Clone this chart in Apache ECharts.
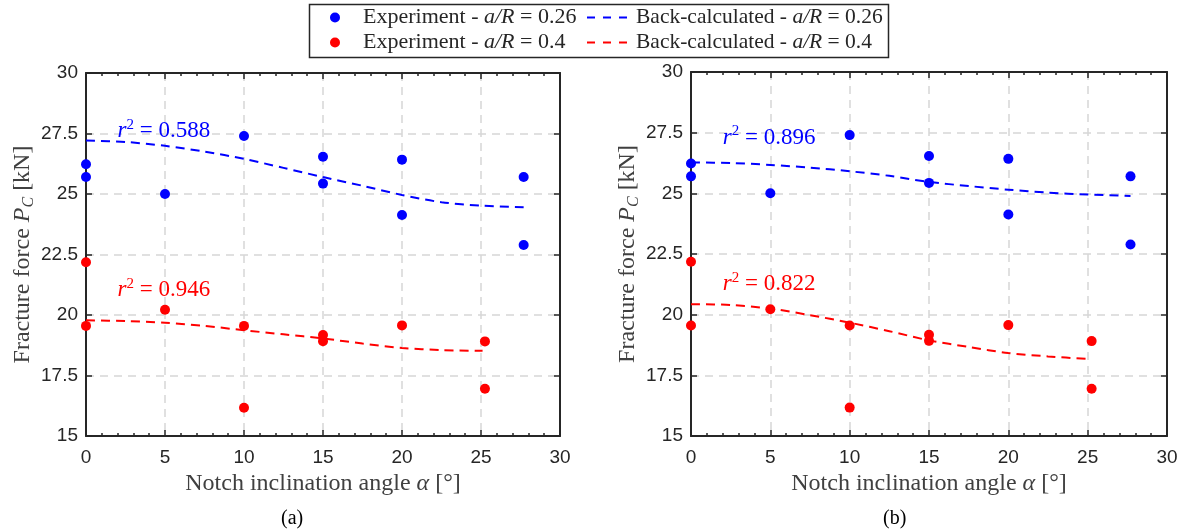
<!DOCTYPE html>
<html>
<head>
<meta charset="utf-8">
<script src="https://cdn.jsdelivr.net/npm/echarts@6/dist/echarts.min.js"></script>
<style>
html,body{margin:0;padding:0;background:#fff;}
#chart{width:1186px;height:529px;}
</style>
</head>
<body>
<div id="chart"></div>
<script>
// ---- data ----
var expX26 = [0, 0, 5, 10, 15, 15, 20, 20, 27.7, 27.7];
var expY26 = [26.23, 25.70, 25.0, 27.40, 26.54, 25.43, 26.42, 24.13, 25.70, 22.89];
var expX40 = [0, 0, 5, 10, 10, 15, 15, 20, 25.25, 25.25];
var expY40 = [22.18, 19.55, 20.22, 19.55, 16.17, 19.17, 18.92, 19.57, 18.91, 16.95];

var fitX26 = [0, 2.5, 5, 7.5, 10, 12.5, 15, 17.5, 20, 22.5, 25, 27.7];
var fitX40 = [0, 2.5, 5, 7.5, 10, 12.5, 15, 17.5, 20, 22.5, 25.1];
// panel (a)
var fitA26 = [27.21, 27.15, 26.99, 26.75, 26.45, 26.08, 25.70, 25.34, 24.96, 24.66, 24.52, 24.45];
var fitA40 = [19.78, 19.75, 19.68, 19.55, 19.37, 19.20, 19.03, 18.82, 18.64, 18.55, 18.52];
// panel (b)
var fitB26 = [26.27, 26.25, 26.17, 26.06, 25.91, 25.72, 25.47, 25.30, 25.15, 25.03, 24.95, 24.89];
var fitB40 = [20.43, 20.40, 20.25, 19.98, 19.67, 19.32, 18.94, 18.67, 18.42, 18.28, 18.17];

var r2A = ['0.588', '0.946'];
var r2B = ['0.896', '0.822'];
var r2Pos = [[2.0, 27.6], [2.0, 21.05]];
var r2PosB = [[2.0, 27.3], [2.0, 21.25]];

var xTicks = {min: 0, max: 30, interval: 5};
var yTicks = {min: 15, max: 30, interval: 2.5};

var names = ['Experiment - a/R = 0.26', 'Experiment - a/R = 0.4',
             'Back-calculated - a/R = 0.26', 'Back-calculated - a/R = 0.4'];

// ---- helpers ----
function pairs(xs, ys) { return xs.map(function (x, i) { return [x, ys[i]]; }); }
var BLUE = '#0000ff', RED = '#ff0000';
var AX = '#262626';
var TITLE = '#404040';
var SERIF = '"Liberation Serif", "DejaVu Serif", serif';
var SANS = '"Liberation Sans", Arial, sans-serif';

function legendRich(size) {
  return {
    n: {fontFamily: SERIF, fontSize: size, color: AX},
    i: {fontFamily: SERIF, fontSize: size, fontStyle: 'italic', color: AX}
  };
}

function xAxes(gi) {
  return [{
    type: 'value', gridIndex: gi, min: xTicks.min, max: xTicks.max, interval: xTicks.interval,
    position: 'bottom',
    name: '{n|Notch inclination angle }{i|α}{n| [°]}',
    nameLocation: 'middle', nameGap: 29,
    nameTextStyle: {rich: {
      n: {fontFamily: SERIF, fontSize: 24, color: TITLE},
      i: {fontFamily: SERIF, fontSize: 24, fontStyle: 'italic', color: TITLE}
    }},
    axisLine: {show: true, onZero: false, lineStyle: {color: AX, width: 2}},
    axisTick: {show: true, inside: true, length: 6, lineStyle: {color: AX, width: 1.5}},
    minorTick: {show: true, splitNumber: 5, length: 3, lineStyle: {color: AX, width: 1.5}},
    axisLabel: {show: true, margin: 12, fontFamily: SANS, fontSize: 19, color: AX},
    splitLine: {show: true, lineStyle: {color: '#d6d6d6', width: 1.5, type: [8, 6]}}
  }, {
    type: 'value', gridIndex: gi, min: xTicks.min, max: xTicks.max, interval: xTicks.interval,
    position: 'top',
    axisLine: {show: true, onZero: false, lineStyle: {color: AX, width: 2}},
    axisTick: {show: true, inside: true, length: 6, lineStyle: {color: AX, width: 1.5}},
    minorTick: {show: true, splitNumber: 5, length: 3, lineStyle: {color: AX, width: 1.5}},
    axisLabel: {show: false},
    splitLine: {show: false}
  }];
}
function yAxes(gi) {
  return [{
    type: 'value', gridIndex: gi, min: yTicks.min, max: yTicks.max, interval: yTicks.interval,
    position: 'left',
    name: '{n|Fracture force }{i|P}{s|C}{n| [kN]}',
    nameLocation: 'middle', nameGap: 49,
    nameTextStyle: {rich: {
      n: {fontFamily: SERIF, fontSize: 24, color: TITLE},
      i: {fontFamily: SERIF, fontSize: 24, fontStyle: 'italic', color: TITLE},
      s: {fontFamily: SERIF, fontSize: 16, fontStyle: 'italic', color: TITLE, padding: [12, 0, 0, 0]}
    }},
    axisLine: {show: true, onZero: false, lineStyle: {color: AX, width: 2}},
    axisTick: {show: true, inside: true, length: 6, lineStyle: {color: AX, width: 1.5}},
    axisLabel: {show: true, margin: 8, fontFamily: SANS, fontSize: 19, color: AX},
    splitLine: {show: true, lineStyle: {color: '#d6d6d6', width: 1.5, type: [8, 6]}}
  }, {
    type: 'value', gridIndex: gi, min: yTicks.min, max: yTicks.max, interval: yTicks.interval,
    position: 'right',
    axisLine: {show: true, onZero: false, lineStyle: {color: AX, width: 2}},
    axisTick: {show: true, inside: true, length: 6, lineStyle: {color: AX, width: 1.5}},
    axisLabel: {show: false},
    splitLine: {show: false}
  }];
}

function r2Mark(pos, val, color) {
  return {
    symbol: 'circle', symbolSize: 0, silent: true, animation: false,
    label: {
      show: true, position: 'right', distance: 0,
      formatter: '{i|r}{sup|2}{n| = ' + val + '}',
      rich: {
        i: {fontFamily: SERIF, fontSize: 23, fontStyle: 'italic', color: color},
        sup: {fontFamily: SERIF, fontSize: 15, color: color, padding: [0, 0, 12, 0]},
        n: {fontFamily: SERIF, fontSize: 23, color: color}
      }
    },
    data: [{coord: pos}]
  };
}

function panelSeries(gi, fit26, fit40, r2, r2p) {
  var xi = gi * 2, yi = gi * 2;
  return [
    {name: names[0], type: 'scatter', xAxisIndex: xi, yAxisIndex: yi, clip: false,
     symbolSize: 10, itemStyle: {color: BLUE, opacity: 1}, data: pairs(expX26, expY26), z: 5},
    {name: names[1], type: 'scatter', xAxisIndex: xi, yAxisIndex: yi, clip: false,
     symbolSize: 10, itemStyle: {color: RED, opacity: 1}, data: pairs(expX40, expY40), z: 5},
    {name: names[2], type: 'line', xAxisIndex: xi, yAxisIndex: yi, smooth: 0.3,
     showSymbol: false, symbol: 'none', lineStyle: {color: BLUE, width: 2, type: [9, 6]},
     itemStyle: {color: 'rgba(0,0,0,0)'}, data: pairs(fitX26, fit26), markPoint: r2Mark(r2p[0], r2[0], BLUE), z: 4},
    {name: names[3], type: 'line', xAxisIndex: xi, yAxisIndex: yi, smooth: 0.3,
     showSymbol: false, symbol: 'none', lineStyle: {color: RED, width: 2, type: [9, 6]},
     itemStyle: {color: 'rgba(0,0,0,0)'}, data: pairs(fitX40, fit40), markPoint: r2Mark(r2p[1], r2[1], RED), z: 4}
  ];
}

function fmt(name) {
  var p = name.split('a/R');
  return '{n|' + p[0] + '}{i|a/R}{n|' + p[1] + '}';
}

var chart = echarts.init(document.getElementById('chart'), null, {renderer: 'canvas'});
var option = {
  animation: false,
  backgroundColor: '#ffffff',
  grid: [
    {left: 86, top: 73, width: 474, height: 363},
    {left: 691, top: 72, width: 476, height: 364}
  ],
  xAxis: xAxes(0).concat(xAxes(1)),
  yAxis: yAxes(0).concat(yAxes(1)),
  legend: [
    {data: [names[0], names[1]], orient: 'vertical', left: 330, top: 6.5, itemGap: 3,
     itemWidth: 46, itemHeight: 10, icon: 'circle', padding: 0,
     itemStyle: {opacity: 1},
     formatter: fmt, textStyle: {rich: legendRich(22)}},
    {data: [names[2], names[3]], orient: 'vertical', left: 586, top: 6.5, itemGap: 3,
     itemWidth: 44, itemHeight: 10, padding: 0,
     lineStyle: {type: [8, 8], width: 2},
     formatter: fmt, textStyle: {rich: legendRich(21.5)}}
  ],
  graphic: [
    {type: 'rect', left: 307, top: 2, shape: {width: 579, height: 53},
     style: {fill: 'none', stroke: '#262626', lineWidth: 1.5}, z: 100},
    {type: 'text', left: 281, top: 509, style: {text: '(a)', font: '20px "Liberation Serif", serif', fill: '#000'}},
    {type: 'text', left: 883, top: 509, style: {text: '(b)', font: '20px "Liberation Serif", serif', fill: '#000'}}
  ],
  series: panelSeries(0, fitA26, fitA40, r2A, r2Pos).concat(panelSeries(1, fitB26, fitB40, r2B, r2PosB))
};
chart.setOption(option);
</script>
</body>
</html>
